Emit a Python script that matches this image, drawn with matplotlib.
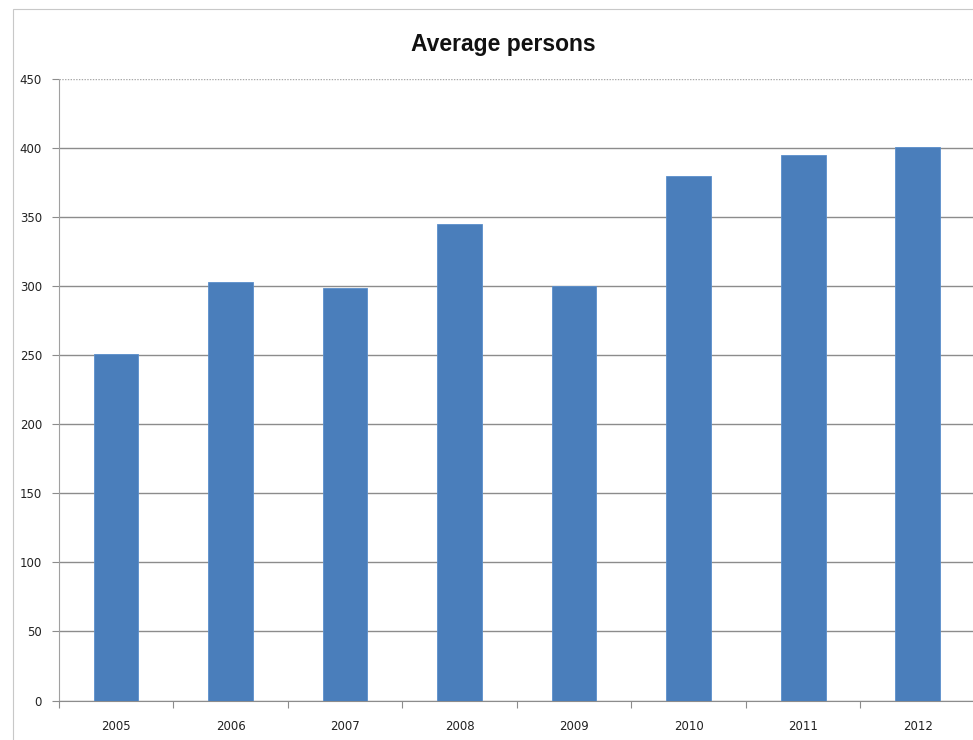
import matplotlib.pyplot as plt
from matplotlib.patches import Rectangle
import numpy as np

# data
years = ['2005', '2006', '2007', '2008', '2009', '2010', '2011', '2012']
avg_persons = [251, 303, 299, 345, 300, 380, 395, 401]
y_ticks = [0, 50, 100, 150, 200, 250, 300, 350, 400, 450]

W, H = 973, 740
fig = plt.figure(figsize=(W / 100, H / 100), dpi=100)

# outer chart border (runs off the right/bottom edge like the screenshot)
fig.patches.append(Rectangle((13 / W, -0.1), 1.2, 1 - 9 / H + 0.1,
                             transform=fig.transFigure, fill=False,
                             edgecolor='#c8c8c8', linewidth=0.8))

left, right = 58.75, 975.0
top, bottom = 79.3, 700.5
ax = fig.add_axes([left / W, 1 - bottom / H, (right - left) / W, (bottom - top) / H])

x = np.arange(len(years))
ax.bar(x, avg_persons, width=0.39, color='#4a7ebb', edgecolor='#5b8fcc',
       linewidth=0.6, zorder=3)

ax.set_xlim(-0.5, len(years) - 0.5)
ax.set_ylim(0, 450)
ax.set_yticks(y_ticks)
ax.yaxis.grid(True, color='#8c8c8c', linewidth=1.0, zorder=0)
ax.set_axisbelow(True)
# top gridline is fainter and dotted in the original
ax.get_ygridlines()[-1].set_color('#a8a8a8')
ax.get_ygridlines()[-1].set_linestyle((0, (1, 1)))

# category ticks sit on the boundaries, labels at the centres
ax.set_xticks(np.arange(len(years) + 1) - 0.5)
ax.set_xticklabels([])
ax.set_xticks(x, minor=True)
ax.set_xticklabels(years, minor=True)
ax.tick_params(axis='x', which='major', length=5, color='#8c8c8c', direction='out')
ax.tick_params(axis='x', which='minor', length=0, pad=14, labelsize=8.5, labelcolor='#222222')
ax.tick_params(axis='y', length=5, color='#8c8c8c', pad=7, labelsize=8.5, labelcolor='#222222')

for side in ['top', 'right']:
    ax.spines[side].set_visible(False)
ax.spines['left'].set_color('#a0a0a0')
ax.spines['left'].set_linestyle((0, (1, 1)))
ax.spines['bottom'].set_color('#8c8c8c')

fig.text(503 / W, 1 - 44 / H, 'Average persons', ha='center', va='center',
         fontsize=16.5, fontweight='bold', family='Liberation Sans', color='#111111')

fig.savefig('out.png', dpi=100, facecolor='white')
